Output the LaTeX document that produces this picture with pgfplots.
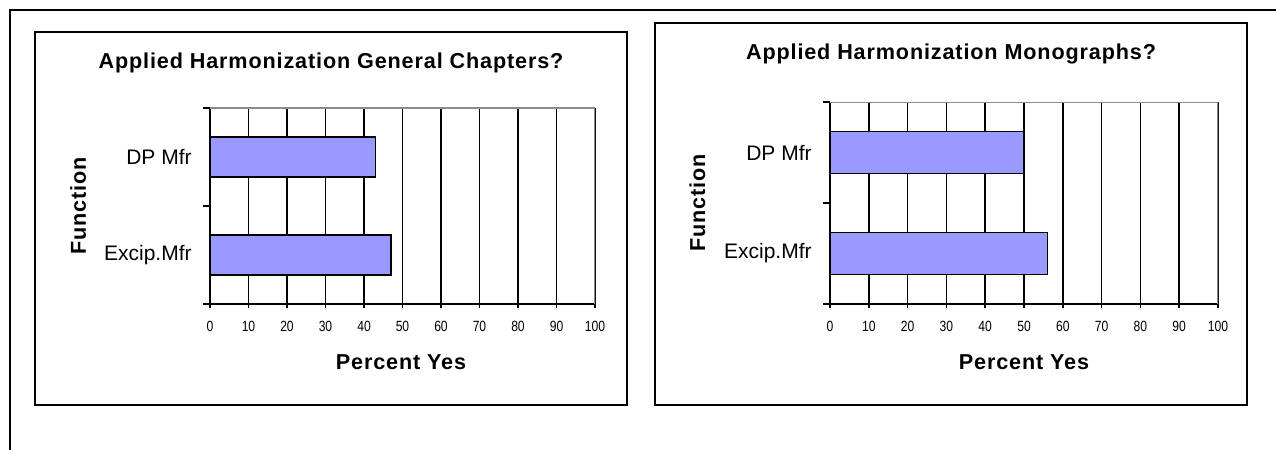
\documentclass[border=0pt]{standalone}
\usepackage{fontspec}
\setmainfont{Liberation Sans}
\newfontfamily\tickfont[FakeStretch=0.82]{Liberation Sans}
\newfontfamily\headfont[LetterSpace=4]{Liberation Sans}
\usepackage{pgfplots}
\pgfplotsset{compat=1.18}

\definecolor{barfill}{HTML}{9999FF}
\definecolor{plotborder}{HTML}{8C8C8C}

\pgfplotsset{
  yesbars/.style={
    scale only axis,
    anchor=south west,
    xmin=0, xmax=100, ymin=0, ymax=2,
    axis x line*=bottom,
    axis y line*=left,
    axis line style={black, line width=0.8pt},
    tick align=outside,
    major tick length=3.5pt,
    tick style={black, line width=0.8pt},
    xtick=\empty,
    extra x ticks={0,10,20,30,40,50,60,70,80,90,100},
    extra x tick style={major tick length=2pt, grid=major},
    major grid style={black, line width=0.8pt},
    ytick={0,1,2},
    yticklabels={},
    extra y ticks={0.5,1.5},
    extra y tick labels={Excip.Mfr,DP Mfr},
    extra y tick style={major tick length=0pt, grid=none},
    /pgf/number format/assume math mode=true,
    xticklabel style={font=\tickfont\fontsize{7.4}{8}\selectfont, inner sep=0pt, anchor=north, yshift=-6.5pt},
    yticklabel style={font=\fontsize{10.5}{12}\selectfont, inner sep=0pt, anchor=east, xshift=-9pt},
  },
  yesbar/.style={xbar, bar width=0.41, fill=barfill, draw=black, line width=0.6pt},
}

\begin{document}
\begin{tikzpicture}
\path[use as bounding box] (0pt,0pt) rectangle (638pt,225pt);

% page frame
\draw[line width=1pt] (5pt,0pt) -- (5pt,220pt) -- (638pt,220pt);

% chart boxes
\draw[line width=1pt] (17.5pt,22.5pt) rectangle (313.5pt,209pt);
\draw[line width=1pt] (327.5pt,22.5pt) rectangle (623.5pt,213.5pt);

% General Chapters
\begin{axis}[yesbars, at={(105pt,73pt)}, width=192.5pt, height=98pt]
  \addplot[yesbar] coordinates {(47,0.5) (43,1.5)};
  \draw[plotborder, line width=0.8pt] (rel axis cs:0,1) -- (rel axis cs:1,1) -- (rel axis cs:1,0);
\end{axis}

% Monographs
\begin{axis}[yesbars, at={(415pt,73pt)}, width=194pt, height=101pt]
  \addplot[yesbar] coordinates {(56,0.5) (50,1.5)};
  \draw[plotborder, line width=0.8pt] (rel axis cs:0,1) -- (rel axis cs:1,1) -- (rel axis cs:1,0);
\end{axis}

\begin{scope}[every node/.style={inner sep=0pt, font=\headfont\bfseries\fontsize{10.8}{13}\selectfont}]
  \node[anchor=base] at (165.5pt,190.85pt) {Applied Harmonization General Chapters?};
  \node[anchor=base] at (475.5pt,195pt) {Applied Harmonization Monographs?};
  \node[anchor=base] at (200.5pt,40pt) {Percent Yes};
  \node[anchor=base] at (512pt,40pt) {Percent Yes};
  \node[anchor=base, rotate=90] at (43pt,122pt) {Function};
  \node[anchor=base, rotate=90] at (352.5pt,123.5pt) {Function};
\end{scope}
\end{tikzpicture}
\end{document}
